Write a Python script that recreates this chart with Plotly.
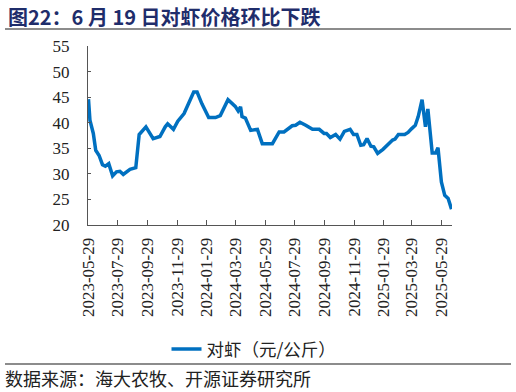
import plotly.graph_objects as go

dates = [
    "2023-05-29", "2023-06-01", "2023-06-08", "2023-06-13", "2023-06-20", "2023-06-27",
    "2023-07-03", "2023-07-10", "2023-07-18", "2023-07-26", "2023-08-02", "2023-08-09",
    "2023-08-23", "2023-09-04", "2023-09-11", "2023-09-25", "2023-10-10", "2023-10-24",
    "2023-11-04", "2023-11-09", "2023-11-21", "2023-11-30", "2023-12-13", "2023-12-26",
    "2024-01-02", "2024-01-09", "2024-01-19", "2024-02-02", "2024-02-16", "2024-02-26",
    "2024-03-13", "2024-03-28", "2024-04-03", "2024-04-08", "2024-04-11", "2024-04-18",
    "2024-04-29", "2024-05-13", "2024-05-23", "2024-06-13", "2024-06-27", "2024-07-07",
    "2024-07-24", "2024-07-31", "2024-08-09", "2024-08-21", "2024-09-04", "2024-09-18",
    "2024-09-28", "2024-10-03", "2024-10-11", "2024-10-22", "2024-10-31", "2024-11-09",
    "2024-11-21", "2024-11-28", "2024-12-05", "2024-12-13", "2024-12-19", "2024-12-26",
    "2025-01-03", "2025-01-09", "2025-01-17", "2025-01-28", "2025-02-07", "2025-02-17",
    "2025-02-22", "2025-03-01", "2025-03-14", "2025-03-21", "2025-03-28", "2025-04-05",
    "2025-04-11", "2025-04-19", "2025-04-26", "2025-05-01", "2025-05-10", "2025-05-17",
    "2025-05-22", "2025-05-29", "2025-06-05", "2025-06-12", "2025-06-19",
]
prices = [
    44.6, 40.5, 37.9, 34.6, 33.6, 31.8,
    31.5, 32.0, 29.6, 30.4, 30.5, 29.9,
    30.9, 31.2, 37.7, 39.2, 36.9, 37.3,
    39.2, 39.8, 38.7, 40.3, 41.8, 44.7,
    46.0, 46.0, 43.7, 41.0, 41.0, 41.4,
    44.5, 43.2, 42.3, 43.1, 41.2, 40.9,
    38.5, 38.7, 35.9, 35.9, 38.2, 38.2,
    39.4, 39.5, 40.1, 39.5, 38.7, 38.7,
    37.9, 37.9, 37.1, 37.7, 36.8, 38.3,
    38.7, 37.7, 37.7, 35.6, 35.7, 36.9,
    35.4, 35.3, 34.0, 34.8, 35.7, 36.6,
    36.8, 37.7, 37.7, 38.1, 38.8, 39.5,
    41.2, 44.5, 39.2, 42.7, 34.1, 34.1,
    35.1, 28.4, 25.8, 25.2, 23.1,
]
tick_dates = ["2023-05-29", "2023-07-29", "2023-09-29", "2023-11-29", "2024-01-29",
              "2024-03-29", "2024-05-29", "2024-07-29", "2024-09-29", "2024-11-29",
              "2025-01-29", "2025-03-29", "2025-05-29"]
y_ticks = [20, 25, 30, 35, 40, 45, 50, 55]

series_name = "对虾（元/公斤）"
title_text = "图22：6 月 19 日对虾价格环比下跌"
source_text = "数据来源：海大农牧、开源证券研究所"

serif = "Liberation Serif, Times New Roman, serif"
cjk = "Noto Sans CJK SC"

fig = go.Figure()
fig.add_trace(go.Scatter(
    x=dates, y=prices, mode="lines", name=series_name,
    line=dict(color="#0070C0", width=3.5),
))

fig.update_layout(
    width=516, height=392,
    margin=dict(l=88, r=64, t=46, b=167, autoexpand=False),
    paper_bgcolor="white", plot_bgcolor="white",
    showlegend=True,
    legend=dict(
        orientation="h", x=254 / 516, xanchor="center", xref="container",
        y=(392 - 349) / 392, yref="container", yanchor="middle",
        font=dict(family=cjk, size=17.5, color="#222"),
        bgcolor="rgba(0,0,0,0)",
    ),
    xaxis=dict(
        type="date", automargin=False,
        range=["2023-05-28", "2025-06-20"],
        tickmode="array", tickvals=tick_dates, ticktext=tick_dates,
        tickangle=-90, ticklabelstandoff=5,
        tickfont=dict(family=serif, size=17, color="#222"),
        showgrid=False, zeroline=False,
        showline=True, linecolor="#555", linewidth=1,
        ticks="inside", ticklen=5, tickcolor="#555",
    ),
    yaxis=dict(
        range=[20, 55], tickvals=y_ticks, automargin=False,
        ticklabelstandoff=14,
        tickfont=dict(family=serif, size=17, color="#222"),
        showgrid=False, zeroline=False,
        showline=True, linecolor="#555", linewidth=1,
        ticks="inside", ticklen=3, tickcolor="#555",
    ),
)

fig.add_annotation(
    text="<b>" + title_text + "</b>", xref="paper", yref="paper",
    x=-82 / 364, y=1 + (46 - 16) / 179, xanchor="left", yanchor="middle",
    showarrow=False, font=dict(family=cjk, size=20, color="#1F2D6B"),
)
fig.add_annotation(
    text=source_text, xref="paper", yref="paper",
    x=-85 / 364, y=-(378 - 225) / 179, xanchor="left", yanchor="middle",
    showarrow=False, font=dict(family=cjk, size=18, color="#222"),
)
for ypix in (29, 364):
    yp = (225 - ypix) / 179
    fig.add_shape(type="line", xref="paper", yref="paper",
                  x0=-83 / 364, x1=(511 - 88) / 364, y0=yp, y1=yp,
                  line=dict(color="#8c8c8c", width=2))

fig.write_html("out.html", config={"displayModeBar": False},
               post_script="document.body.style.margin='0';")
